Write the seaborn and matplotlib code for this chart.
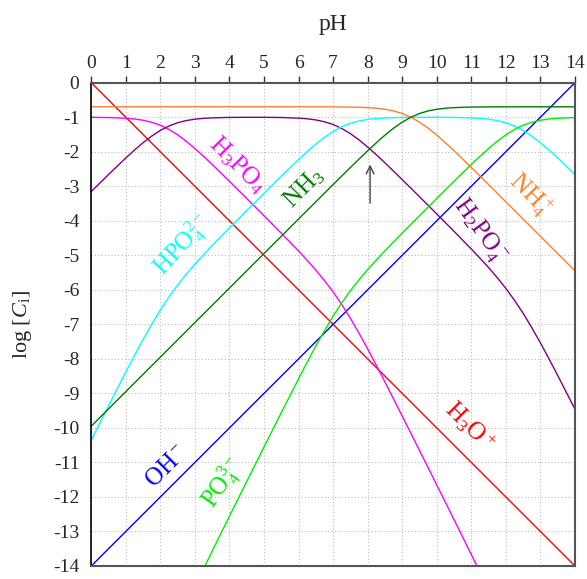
import numpy as np
import pandas as pd
import matplotlib
matplotlib.use("Agg")
import matplotlib.pyplot as plt
import seaborn as sns

# log concentrations; finer steps where the curves bend
ph_w = [0, 14]
h3o = [0, -14]
oh = [-14, 0]

ph_p = [0, 0.5, 1, 1.25, 1.5, 1.75, 2, 2.25, 2.5, 2.75, 3, 3.25, 3.5, 4, 4.5,
        5, 5.5, 6, 6.25, 6.5, 6.75, 7, 7.25, 7.5, 7.75, 8, 8.25, 8.5, 9, 9.5,
        10, 10.5, 11, 11.25, 11.5, 11.75, 12, 12.25, 12.5, 12.75, 13, 13.25, 13.5, 14]
h3po4 = [-1.003, -1.010, -1.030, -1.052, -1.088, -1.146, -1.232, -1.354, -1.510, -1.697,
         -1.907, -2.133, -2.369, -2.856, -3.353, -3.853, -4.359, -4.877, -5.146, -5.429,
         -5.732, -6.062, -6.427, -6.826, -7.258, -7.714, -8.187, -8.671, -9.657, -10.653,
         -11.653, -12.656, -13.669, -14.183, -14.707, -15.247, -15.810, -16.404, -17.032,
         -17.696, -18.388, -19.102, -19.830, -21.310]
h2po4 = [-3.153, -2.660, -2.180, -1.952, -1.738, -1.546, -1.382, -1.254, -1.160, -1.097,
         -1.057, -1.033, -1.019, -1.006, -1.003, -1.003, -1.009, -1.027, -1.046, -1.079,
         -1.132, -1.212, -1.327, -1.476, -1.658, -1.864, -2.087, -2.321, -2.807, -3.303,
         -3.803, -4.306, -4.819, -5.083, -5.357, -5.647, -5.960, -6.304, -6.682,
         -7.096, -7.538, -8.002, -8.480, -9.460]
hpo4 = [-10.353, -9.360, -8.380, -7.902, -7.438, -6.996, -6.582, -6.204, -5.860, -5.547,
        -5.257, -4.983, -4.719, -4.206, -3.703, -3.203, -2.709, -2.227, -1.996, -1.779,
        -1.582, -1.412, -1.277, -1.176, -1.108, -1.064, -1.037, -1.021, -1.007, -1.003,
        -1.003, -1.006, -1.019, -1.033, -1.057, -1.097, -1.160, -1.254, -1.382,
        -1.546, -1.738, -1.952, -2.180, -2.660]
po4 = [-22.703, -21.210, -19.730, -18.992, -18.288, -17.596, -16.932, -16.304, -15.710, -15.147,
       -14.607, -14.083, -13.569, -12.556, -11.553, -10.553, -9.559, -8.577, -8.096, -7.629,
       -7.182, -6.762, -6.377, -6.026, -5.708, -5.414, -5.137, -4.871, -4.357, -3.853,
       -3.353, -2.856, -2.369, -2.133, -1.907, -1.697, -1.510, -1.354, -1.232,
       -1.146, -1.088, -1.052, -1.030, -1.010]

ph_n = [0, 0.5, 1, 1.5, 2, 2.5, 3, 3.5, 4, 4.5, 5, 5.5, 6, 6.5, 7, 7.5,
        7.75, 8, 8.25, 8.5, 8.75, 9, 9.25, 9.5, 9.75, 10, 10.25, 10.5, 10.75,
        11, 11.5, 12, 12.5, 13, 13.5, 14]
nh4 = [-0.699, -0.699, -0.699, -0.699, -0.699, -0.699, -0.699, -0.699, -0.699, -0.699,
       -0.699, -0.699, -0.699, -0.700, -0.701, -0.707,
       -0.713, -0.723, -0.740, -0.770, -0.818, -0.893, -1.000, -1.143, -1.318, -1.520,
       -1.740, -1.973, -2.213,
       -2.457, -2.951, -3.450, -3.949, -4.449, -4.949, -5.449]
nh3 = [-9.949, -9.449, -8.949, -8.449, -7.949, -7.449, -6.949, -6.449, -5.949, -5.449,
       -4.949, -4.449, -3.949, -3.450, -2.951, -2.457,
       -2.213, -1.973, -1.740, -1.520, -1.318, -1.143, -1.000, -0.893, -0.818, -0.770,
       -0.740, -0.723, -0.713,
       -0.707, -0.701, -0.700, -0.699, -0.699, -0.699, -0.699]

species = {"H3O+": (ph_w, h3o), "OH-": (ph_w, oh),
           "H3PO4": (ph_p, h3po4), "H2PO4-": (ph_p, h2po4),
           "HPO4 2-": (ph_p, hpo4), "PO4 3-": (ph_p, po4),
           "NH4+": (ph_n, nh4), "NH3": (ph_n, nh3)}

colors = {"H3O+": "#ff0000", "OH-": "#0000ff", "H3PO4": "#ff00ff",
          "H2PO4-": "#800080", "HPO4 2-": "#00ffff", "PO4 3-": "#00ee00",
          "NH4+": "#ff7f2a", "NH3": "#007a00"}

# label text, position (pH, log C) and rotation
labels = [
    ("H3PO4", r"H$_3$PO$_4$", 4.22, -2.39, -45),
    ("NH3", r"NH$_3$", 6.16, -3.06, 45),
    ("HPO4 2-", r"HPO$_4^{2-}$", 2.63, -4.71, 47),
    ("NH4+", r"NH$_4^+$", 12.70, -3.26, -45),
    ("H2PO4-", r"H$_2$PO$_4^-$", 11.25, -4.28, -54),
    ("H3O+", r"H$_3$O$^+$", 10.93, -9.95, -45),
    ("OH-", r"OH$^-$", 2.18, -11.12, 45),
    ("PO4 3-", r"PO$_4^{3-}$", 3.81, -11.6, 55),
]

arrow_ph = 8.07
arrow_from = -3.57
arrow_to = -2.29

df = pd.concat([pd.DataFrame({"pH": x, "logC": y, "species": k})
                for k, (x, y) in species.items()], ignore_index=True)

sns.set_style("white")
plt.rcParams["font.family"] = ["Liberation Serif", "DejaVu Serif"]
plt.rcParams["mathtext.fontset"] = "custom"
plt.rcParams["mathtext.rm"] = "Liberation Serif"
plt.rcParams["mathtext.it"] = "Liberation Serif:italic"
plt.rcParams["axes.unicode_minus"] = False

fig = plt.figure(figsize=(5.87, 5.79), dpi=100)
ax = fig.add_axes([0.1555, 0.0225, 0.824, 0.8347])

sns.lineplot(data=df, x="pH", y="logC", hue="species", palette=colors,
             estimator=None, sort=False, legend=False, linewidth=1.0, ax=ax)

for key, txt, x, y, rot in labels:
    ax.text(x, y, txt, color=colors[key], fontsize=18, rotation=rot,
            ha="center", va="center", rotation_mode="anchor")

ax.annotate("", xy=(arrow_ph, arrow_to), xytext=(arrow_ph, arrow_from),
            arrowprops=dict(arrowstyle="->", color="#444444", lw=1.0,
                            mutation_scale=14))

ax.set_xlim(0, 14)
ax.set_ylim(-14, 0)
ax.set_xticks(range(0, 15))
ax.set_yticks(range(-14, 1))
ax.xaxis.tick_top()
ax.xaxis.set_label_position("top")
ax.set_xlabel("pH", fontsize=17, labelpad=18)
ax.set_ylabel(r"log [$C_{\rm i}$]", fontsize=16, labelpad=14)
ax.tick_params(axis="both", labelsize=14, length=5, width=1, direction="out",
               color="#333333")
ax.tick_params(axis="x", pad=3)

ax.grid(True, color="#bbbbbb", linestyle=(0, (1, 2)), linewidth=0.8)
for side in ["top", "right", "bottom"]:
    ax.spines[side].set_color("#555555")
    ax.spines[side].set_linewidth(1.5)
ax.spines["left"].set_color("black")
ax.spines["left"].set_linewidth(1.2)

fig.savefig("out.png", dpi=100)
